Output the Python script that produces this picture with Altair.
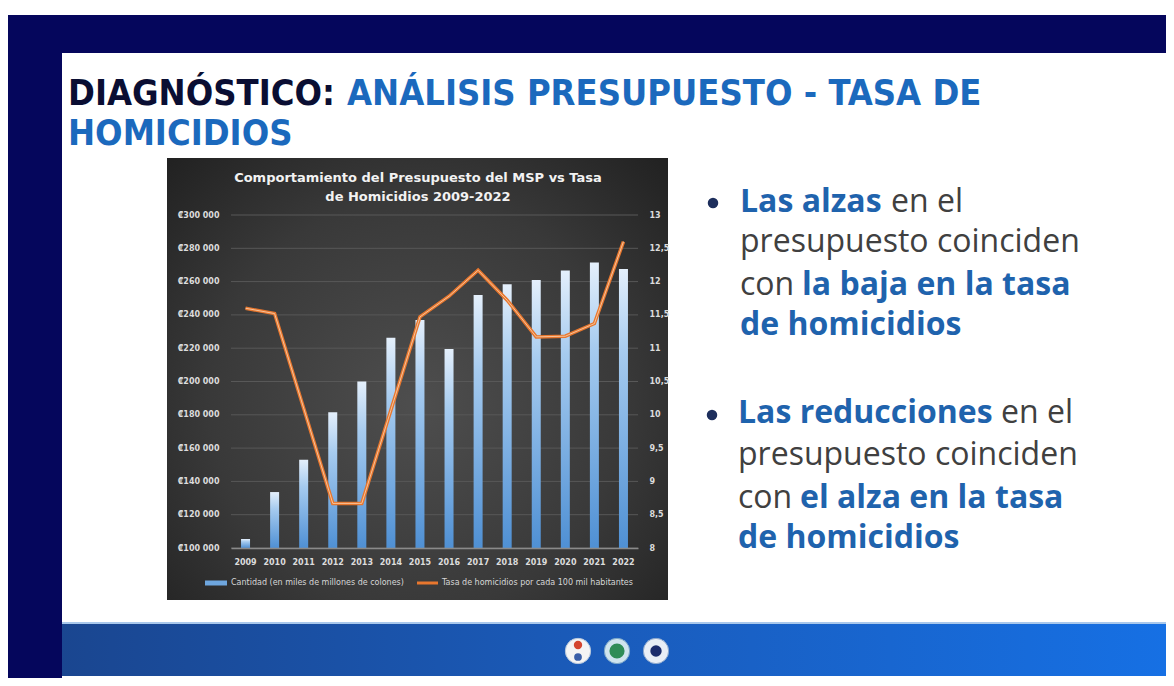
import altair as alt
import pandas as pd

# ---------------- data ----------------
years = ["2009", "2010", "2011", "2012", "2013", "2014", "2015",
         "2016", "2017", "2018", "2019", "2020", "2021", "2022"]
presupuesto = [105400, 133600, 153000, 181500, 200000, 226300, 237000,
               219500, 252000, 258400, 261000, 266600, 271400, 267600]
tasa = [11.60, 11.52, 10.10, 8.67, 8.67, 10.07, 11.47,
        11.78, 12.17, 11.72, 11.17, 11.18, 11.37, 12.60]
left_ticks = [100000, 120000, 140000, 160000, 180000, 200000,
              220000, 240000, 260000, 280000, 300000]
right_ticks = [8, 8.5, 9, 9.5, 10, 10.5, 11, 11.5, 12, 12.5, 13]

chart_title = ["Comportamiento del Presupuesto del MSP vs Tasa",
               "de Homicidios 2009-2022"]
legend_labels = ["Cantidad (en miles de millones de colones)",
                 "Tasa de homicidios por cada 100 mil habitantes"]

df = pd.DataFrame({"year": years, "presupuesto": presupuesto, "tasa": tasa})
grid_df = pd.DataFrame({"tick": left_ticks})
one = pd.DataFrame({"k": [0]})

# ---------------- geometry ----------------
OX, OY = 231, 215          # page position of the plot area origin
PW, PH = 407, 333          # plot area size
CW, CH = 1158, 670         # canvas size


def px(x):
    return x - OX


def py(y):
    return y - OY


TITLE_FONT = "DejaVu Sans Condensed, DejaVu Sans, sans-serif"
BODY_FONT = "Open Sans"
CHART_FONT = "DejaVu Sans"
BLUE_TXT = "#1f63ad"
GRAY_TXT = "#404040"


def rect(x1, x2, y1, y2, fill):
    return alt.Chart(one).mark_rect(fill=fill, strokeWidth=0).encode(
        x=alt.value(px(x1)), x2=alt.value(px(x2)),
        y=alt.value(py(y1)), y2=alt.value(py(y2)))


def text(t, x, y, size, color, weight="normal", font=BODY_FONT,
         align="left", baseline="alphabetic"):
    return alt.Chart(one).mark_text(
        text=t, align=align, baseline=baseline, font=font, fontSize=size,
        fontWeight=weight, color=color).encode(
        x=alt.value(px(x)), y=alt.value(py(y)))


def dot(x, y, size, fill, stroke=None):
    kw = dict(size=size, fill=fill, opacity=1)
    if stroke:
        kw.update(stroke=stroke, strokeWidth=1)
    return alt.Chart(one).mark_circle(**kw).encode(
        x=alt.value(px(x)), y=alt.value(py(y)))


def hline(x1, x2, y, color, width):
    return alt.Chart(one).mark_rule(color=color, strokeWidth=width).encode(
        x=alt.value(px(x1)), x2=alt.value(px(x2)), y=alt.value(py(y)))


layers = []

# ---------------- slide frame ----------------
layers.append(rect(8, 1166, 15, 53, "#05065c"))
layers.append(rect(8, 62, 15, 678, "#05065c"))
footer_grad = alt.LinearGradient(
    gradient="linear", x1=0, x2=1, y1=0, y2=0,
    stops=[alt.GradientStop(offset=0, color="#1a4690"),
           alt.GradientStop(offset=0.5, color="#1a5cbc"),
           alt.GradientStop(offset=1, color="#1670e4")])
layers.append(rect(62, 1166, 622, 676, footer_grad))
layers.append(hline(62, 1166, 623, "#a9c8ec", 2))

# footer logos
layers.append(dot(578, 651, 640, "#f4f4f4", "#b8c8dc"))
layers.append(dot(578, 645, 70, "#d4452f"))
layers.append(dot(578, 657, 60, "#3a5fa8"))
layers.append(dot(617, 651, 640, "#cfe4ee", "#7aa6c8"))
layers.append(dot(617, 651, 230, "#2e8c57"))
layers.append(dot(656, 651, 640, "#e9eef6", "#8aa6cc"))
layers.append(dot(656, 651, 130, "#1c2c6c"))

# ---------------- slide title ----------------
layers.append(text("DIAGNÓSTICO:", 68, 105, 36, "#0a0e33", "bold", TITLE_FONT))
layers.append(text("ANÁLISIS PRESUPUESTO - TASA DE", 347, 105, 36, "#1b69bd",
                   "bold", TITLE_FONT))
layers.append(text("HOMICIDIOS", 68, 145, 36, "#1b69bd", "bold", TITLE_FONT))

# ---------------- bullet text ----------------
FS = 32
layers.append(dot(713, 203, 110, "#1d2e5c"))
layers.append(text("Las alzas", 740, 212, FS, BLUE_TXT, "bold"))
layers.append(text("en el", 891, 212, FS, GRAY_TXT))
layers.append(text("presupuesto coinciden", 740, 252, FS, GRAY_TXT))
layers.append(text("con", 740, 295, FS, GRAY_TXT))
layers.append(text("la baja en la tasa", 802, 295, FS, BLUE_TXT, "bold"))
layers.append(text("de homicidios", 740, 335, FS, BLUE_TXT, "bold"))

layers.append(dot(712, 415, 110, "#1d2e5c"))
layers.append(text("Las reducciones", 738, 423, FS, BLUE_TXT, "bold"))
layers.append(text("en el", 1001, 423, FS, GRAY_TXT))
layers.append(text("presupuesto coinciden", 738, 465, FS, GRAY_TXT))
layers.append(text("con", 738, 508, FS, GRAY_TXT))
layers.append(text("el alza en la tasa", 800, 508, FS, BLUE_TXT, "bold"))
layers.append(text("de homicidios", 738, 548, FS, BLUE_TXT, "bold"))

# ---------------- chart panel ----------------
panel_grad = alt.RadialGradient(
    gradient="radial", x1=0.5, y1=0.55, r1=0, x2=0.5, y2=0.55, r2=0.75,
    stops=[alt.GradientStop(offset=0, color="#4e4e4e"),
           alt.GradientStop(offset=0.55, color="#393939"),
           alt.GradientStop(offset=1, color="#1d1d1d")])
layers.append(rect(167, 668, 158, 600, panel_grad))

layers.append(text(chart_title[0], 418, 178, 13, "#f2f2f2", "bold",
                   CHART_FONT, "center", "middle"))
layers.append(text(chart_title[1], 418, 197, 13, "#f2f2f2", "bold",
                   CHART_FONT, "center", "middle"))

# gridlines
layers.append(alt.Chart(grid_df).mark_rule(color="#585858", strokeWidth=1).encode(
    y=alt.Y("tick:Q", scale=alt.Scale(domain=[100000, 300000], zero=False, nice=False),
            axis=None),
    x=alt.value(0), x2=alt.value(PW)))

lbl = dict(labelColor="#dcdcdc", labelFont=CHART_FONT, labelFontSize=8,
           labelFontWeight="bold", ticks=False, title=None, zindex=1, grid=False)

bar_grad = alt.LinearGradient(
    gradient="linear", x1=0, x2=0, y1=0, y2=1,
    stops=[alt.GradientStop(offset=0, color="#e4effb"),
           alt.GradientStop(offset=0.3, color="#a6cbef"),
           alt.GradientStop(offset=1, color="#4f90d4")])

bars = alt.Chart(df).mark_bar(size=9, fill=bar_grad).encode(
    x=alt.X("year:O", scale=alt.Scale(paddingInner=0, paddingOuter=0),
            axis=alt.Axis(labelAngle=0, labelPadding=10, domain=True,
                          domainColor="#8a8a8a", domainWidth=1.5, **lbl)),
    y=alt.Y("presupuesto:Q",
            scale=alt.Scale(domain=[100000, 300000], zero=False, nice=False),
            axis=alt.Axis(orient="left", values=left_ticks, domain=False,
                          labelPadding=12,
                          labelExpr="'₡' + replace(format(datum.value, ',.0f'), ',', ' ')",
                          **lbl)),
    y2=alt.datum(100000))
layers.append(bars)

line = alt.Chart(df).mark_line(color="#e8772e", strokeWidth=3.5).encode(
    x="year:O",
    y=alt.Y("tasa:Q", scale=alt.Scale(domain=[8, 13], zero=False, nice=False),
            axis=alt.Axis(orient="right", values=right_ticks, domain=False,
                          labelPadding=11,
                          labelExpr="replace(format(datum.value, '.1~f'), '.', ',')",
                          **lbl)))
layers.append(line)
line_hi = alt.Chart(df).mark_line(color="#f7c39a", strokeWidth=1).encode(
    x="year:O",
    y=alt.Y("tasa:Q", scale=alt.Scale(domain=[8, 13], zero=False, nice=False),
            axis=None))
layers.append(line_hi)

# legend
layers.append(hline(205, 227, 583, "#6ea6de", 5))
layers.append(text(legend_labels[0], 231, 583, 8, "#d6d6d6", "normal",
                   CHART_FONT, "left", "middle"))
layers.append(hline(417, 438, 583, "#e8772e", 3))
layers.append(text(legend_labels[1], 442, 583, 8, "#d6d6d6", "normal",
                   CHART_FONT, "left", "middle"))

chart = alt.layer(*layers).resolve_scale(y="independent").properties(
    width=PW, height=PH,
    autosize=alt.AutoSizeParams(type="none"),
    padding={"left": OX - 8, "top": OY - 8,
             "right": CW - (OX - 8) - PW, "bottom": CH - (OY - 8) - PH},
    background="white",
).configure_view(stroke=None)

chart.save("out.html", embed_options={"renderer": "svg", "actions": False})
